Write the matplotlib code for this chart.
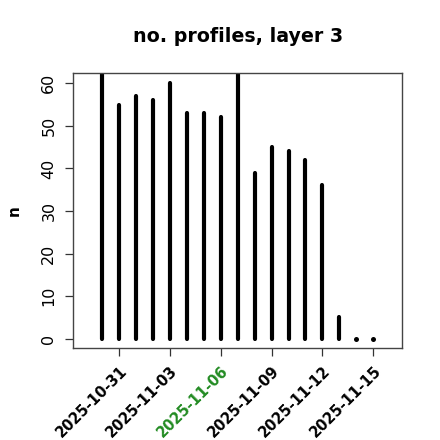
#!/usr/bin/env python3
"""
Number of profiles per day for layer 3, drawn as R-style 'type = h' spikes.
"""

import numpy as np
import pandas as pd
import matplotlib
matplotlib.use('Agg')
import matplotlib.pyplot as plt
import matplotlib.dates as mdates

# daily counts (10-30 and 11-07 run off the top of the panel)
DATES = pd.date_range('2025-10-30', '2025-11-15', freq='D')
COUNTS = [75, 55, 57, 56, 60, 53, 53, 52, 75, 39, 45, 44, 42, 36, 5, 0, 0]

TICK_DATES = ['2025-10-31', '2025-11-03', '2025-11-06',
              '2025-11-09', '2025-11-12', '2025-11-15']
HIGHLIGHT = '2025-11-06'
Y_TICKS = [0, 10, 20, 30, 40, 50, 60]


def main():
    fig = plt.figure(figsize=(4.4, 4.4), dpi=100)
    ax = fig.add_axes([0.166, 0.209, 0.748, 0.625])

    x = mdates.date2num(DATES)
    for xi, n in zip(x, COUNTS):
        if n == 0:
            # zero-length spike: R still draws the round line end as a dot
            ax.plot([xi], [0], 'o', color='black', ms=3.6, mew=0)
        else:
            ax.plot([xi, xi], [0, n], color='black', lw=3.0,
                    solid_capstyle='round')

    ax.set_xlim(mdates.date2num(pd.Timestamp('2025-10-31')) - 2.72,
                mdates.date2num(pd.Timestamp('2025-11-15')) + 1.71)
    ax.set_ylim(-2.2, 62.4)

    ticks = mdates.date2num(pd.to_datetime(TICK_DATES))
    ax.set_xticks(ticks)
    ax.set_xticklabels(TICK_DATES, rotation=45, ha='right',
                       rotation_mode='anchor', fontweight='bold',
                       fontsize=10.5)
    for lab in ax.get_xticklabels():
        if lab.get_text() == HIGHLIGHT:
            lab.set_color('#228B22')

    ax.set_yticks(Y_TICKS)
    ax.set_yticklabels([str(v) for v in Y_TICKS], rotation=90,
                       va='center', fontsize=11.5)

    ax.tick_params(axis='both', direction='out', length=6, width=0.9,
                   color='#333333')
    ax.tick_params(axis='x', pad=5)
    ax.tick_params(axis='y', pad=6)
    for sp in ax.spines.values():
        sp.set_color('#444444')
        sp.set_linewidth(1.0)

    ax.set_ylabel('n', fontweight='bold', fontsize=11, labelpad=14)
    ax.set_title('no. profiles, layer 3', fontweight='bold',
                 fontsize=13.7, pad=22)

    fig.savefig('out.png', dpi=100)


if __name__ == '__main__':
    main()
